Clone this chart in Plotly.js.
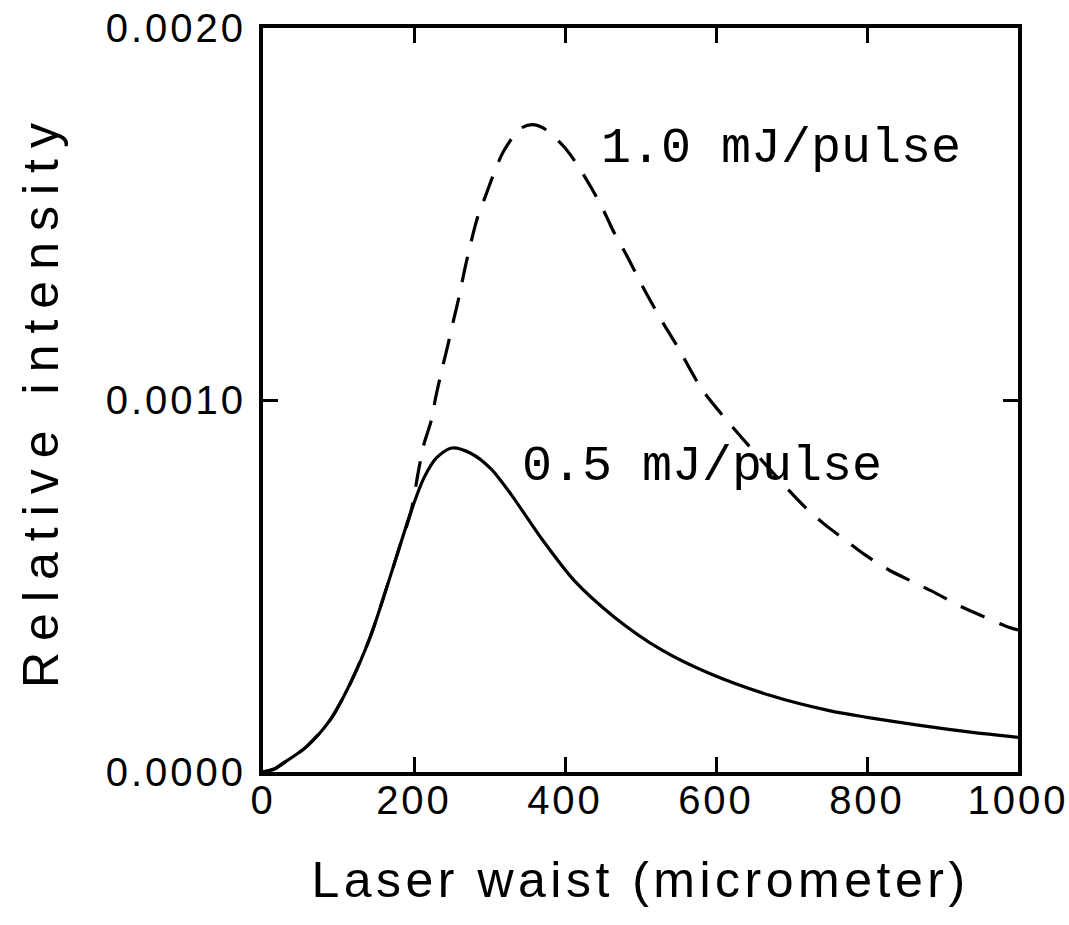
<!DOCTYPE html>
<html>
<head>
<meta charset="utf-8">
<script src="https://cdn.plot.ly/plotly-3.0.1.min.js"></script>
<style>
  html, body { margin: 0; padding: 0; background: #fff; }
  #chart { width: 1069px; height: 925px; }
  .xtitle { letter-spacing: 4.5px; }
  .ytitle { letter-spacing: 11px; }
  .xtick text, .ytick text { letter-spacing: 3px; }
</style>
</head>
<body>
<div id="chart"></div>
<script>
// Laser waist (micrometer)
const waist05 = [0, 15, 27, 57, 89, 116, 142, 164, 182, 196, 213, 230, 250, 275, 302, 329, 346, 368, 412, 465, 528, 590, 670, 750, 800, 861, 937, 1000];
// Relative intensity, 0.5 mJ/pulse
const int05 = [0, 0.000008, 0.000024, 0.000067, 0.00014, 0.00024, 0.000363, 0.000497, 0.000612, 0.000700, 0.000790, 0.000845, 0.000871, 0.000857, 0.000815, 0.000745, 0.000695, 0.000630, 0.000515, 0.000417, 0.000328, 0.000266, 0.000207, 0.000165, 0.000147, 0.000128, 0.000107, 0.000093];

const waist10 = [0, 15, 27, 57, 89, 116, 142, 164, 182, 196, 206, 213, 223, 229, 238, 244, 253, 260, 267, 275, 284, 295, 306, 319, 341, 357, 372, 399, 417, 435, 451, 465, 484, 499, 515, 532, 550, 581, 625, 694, 718, 743, 771, 798, 829, 861, 891, 923, 953, 984, 1000];
// Relative intensity, 1.0 mJ/pulse
const int10 = [0, 0.000008, 0.000024, 0.000067, 0.00014, 0.00024, 0.000363, 0.000497, 0.000612, 0.000700, 0.00081, 0.00088, 0.000946, 0.00101, 0.00109, 0.00114, 0.00122, 0.00128, 0.00135, 0.00142, 0.00149, 0.00155, 0.00161, 0.00167, 0.00173, 0.00174, 0.00173, 0.00168, 0.00163, 0.00157, 0.00151, 0.00145, 0.00138, 0.00132, 0.00126, 0.00120, 0.00114, 0.00103, 0.00092, 0.000763, 0.000712, 0.000667, 0.000624, 0.000583, 0.000543, 0.000511, 0.000481, 0.000446, 0.000419, 0.000392, 0.000382];

const xTicks = [0, 200, 400, 600, 800, 1000];
const yTicks = [0, 0.001, 0.002];
const yTickText = ['0.0000', '0.0010', '0.0020'];
const seriesLabels = ['0.5 mJ/pulse', '1.0 mJ/pulse'];

const traces = [
  { x: waist10, y: int10, mode: 'lines', name: seriesLabels[1],
    line: { color: '#000', width: 3.2, dash: '26px,16px', shape: 'spline', smoothing: 0.8 } },
  { x: waist05, y: int05, mode: 'lines', name: seriesLabels[0],
    line: { color: '#000', width: 3.2, shape: 'spline', smoothing: 0.8 } }
];

const tickFont = { family: 'Liberation Sans, Arial, sans-serif', size: 40, color: '#000' };
const titleFont = { family: 'Liberation Sans, Arial, sans-serif', size: 50, color: '#000' };
const labelFont = { family: 'Liberation Mono, Courier New, monospace', size: 50, color: '#000' };

const layout = {
  width: 1069, height: 925,
  margin: { l: 263, r: 51, t: 28, b: 153 },
  paper_bgcolor: '#fff', plot_bgcolor: '#fff',
  showlegend: false,
  xaxis: {
    range: [0, 1000], tickvals: xTicks, ticks: 'inside', ticklen: 15, tickwidth: 3,
    tickcolor: '#000', mirror: 'ticks', showline: true, linewidth: 4, linecolor: '#000',
    showgrid: false, zeroline: false, tickfont: tickFont, ticklabelstandoff: -10,
    title: { text: 'Laser waist (micrometer)', font: titleFont, standoff: 42 }
  },
  yaxis: {
    range: [0, 0.002], tickvals: yTicks, ticktext: yTickText, ticks: 'inside', ticklen: 15, tickwidth: 3,
    tickcolor: '#000', mirror: 'ticks', showline: true, linewidth: 4, linecolor: '#000',
    showgrid: false, zeroline: false, tickfont: tickFont, ticklabelstandoff: 5,
    title: { text: 'Relative intensity', font: titleFont, standoff: 32 }
  },
  annotations: [
    { x: 445, y: 0.001677, xref: 'x', yref: 'y', text: seriesLabels[1], showarrow: false,
      xanchor: 'left', yanchor: 'middle', font: labelFont },
    { x: 341, y: 0.000820, xref: 'x', yref: 'y', text: seriesLabels[0], showarrow: false,
      xanchor: 'left', yanchor: 'middle', font: labelFont }
  ]
};

Plotly.newPlot('chart', traces, layout, { displayModeBar: false, staticPlot: true });
</script>
</body>
</html>
